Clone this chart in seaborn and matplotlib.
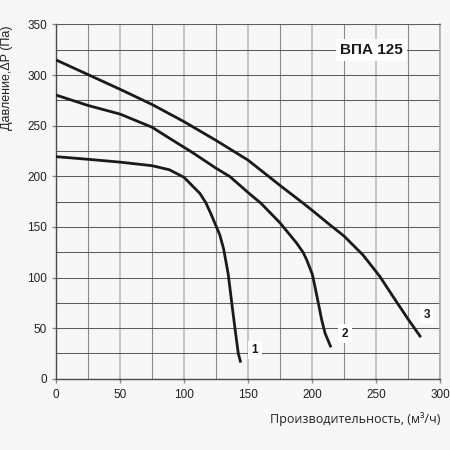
import numpy as np
import pandas as pd
import seaborn as sns
import matplotlib.pyplot as plt
from matplotlib.ticker import MultipleLocator

# fan curves
x1 = [0, 25, 50, 75, 88.5, 100, 107, 112.5, 117, 121, 125, 128, 131, 134.6, 137.3, 139.8, 142.4, 144.3]
y1 = [219.4, 216.8, 214, 210.5, 206.5, 199, 190, 183, 174, 163, 151, 142, 128, 103, 75, 50, 25, 16]

x2 = [0, 25, 50, 75, 97, 106, 125, 136, 150, 160, 175, 188, 193.2, 196, 200.3, 202.3, 204.9, 207.6, 210.2, 214.8]
y2 = [280.3, 270, 261.5, 248.5, 231, 224, 208, 199.6, 184, 173.5, 154, 134, 124.5, 117, 103, 91, 75, 58, 45, 31]

x3 = [0, 25, 50, 75, 100, 125, 150, 166, 175, 193, 200, 214, 225, 240, 253, 266, 275, 285]
y3 = [315, 300.5, 286, 271, 254, 235.5, 216, 200, 191, 173.5, 166.5, 152, 141, 122, 101, 76, 59, 41]

curve_names = ["1", "2", "3"]
label_x = [155.5, 225.8, 289.6]
label_y = [28.4, 44.6, 63.4]

title = "ВПА 125"
xlabel = "Производительность, (м³/ч)"
ylabel = "Давление,ΔP (Па)"

df = pd.concat([
    pd.DataFrame({"q": x1, "p": y1, "curve": "1"}),
    pd.DataFrame({"q": x2, "p": y2, "curve": "2"}),
    pd.DataFrame({"q": x3, "p": y3, "curve": "3"}),
])

bg = "#f7f7f7"
sns.set_style("white", {"axes.facecolor": bg, "figure.facecolor": bg})
plt.rcParams["font.family"] = ["Liberation Sans", "DejaVu Sans"]

fig, ax = plt.subplots(figsize=(4.5, 4.5), dpi=100)
fig.subplots_adjust(left=0.1244, right=0.9778, top=0.9456, bottom=0.1584)

sns.lineplot(data=df, x="q", y="p", units="curve", estimator=None, sort=False,
             color="#1a1a1a", lw=2.0, ax=ax, zorder=5,
             solid_joinstyle="round", solid_capstyle="butt")

ax.set_xlim(0, 300)
ax.set_ylim(0, 350)
ax.xaxis.set_major_locator(MultipleLocator(50))
ax.xaxis.set_minor_locator(MultipleLocator(25))
ax.yaxis.set_major_locator(MultipleLocator(50))
ax.yaxis.set_minor_locator(MultipleLocator(25))

# grid: light vertical, dark horizontal
ax.grid(which="major", axis="x", color="#b5b5b5", lw=1.1)
ax.grid(which="minor", axis="x", color="#8c8c8c", lw=0.8)
ax.grid(which="both", axis="y", color="#5e5e5e", lw=0.75)
ax.set_axisbelow(True)

ax.tick_params(which="major", length=3, width=1, color="#8a8a8a",
               labelsize=8.5, colors="#8a8a8a", labelcolor="#222222")
ax.tick_params(axis="x", which="major", pad=4.5, bottom=True)
ax.tick_params(axis="y", which="major", pad=3.4, left=True)
ax.tick_params(which="minor", length=0)

for side in ["left", "bottom"]:
    ax.spines[side].set_color("#4a4a4a")
    ax.spines[side].set_linewidth(1.0)
ax.spines["top"].set_color("#5e5e5e")
ax.spines["top"].set_linewidth(0.75)
ax.spines["right"].set_color("#a8a8a8")
ax.spines["right"].set_linewidth(1.1)

for name, lx, ly in zip(curve_names, label_x, label_y):
    ax.text(lx, ly, name, ha="center", va="center", fontsize=8.5, fontweight="bold",
            color="#1a1a1a", zorder=6,
            bbox=dict(facecolor="white", edgecolor="none", pad=2.5))

ax.text(246.6, 324.7, title, ha="center", va="center", fontsize=11, fontweight="bold",
        color="#1a1a1a", zorder=6,
        bbox=dict(facecolor="white", edgecolor="none", pad=3))

ax.set_xlabel(xlabel, loc="right", fontsize=9, color="#222222",
              family=["Open Sans", "DejaVu Sans"])
ax.xaxis.set_label_coords(1.0, -0.094)
ax.set_ylabel(ylabel, fontsize=9, color="#222222")
ax.yaxis.set_label_coords(-0.112, 0.849)

fig.savefig("out.png", dpi=100, facecolor=bg)
